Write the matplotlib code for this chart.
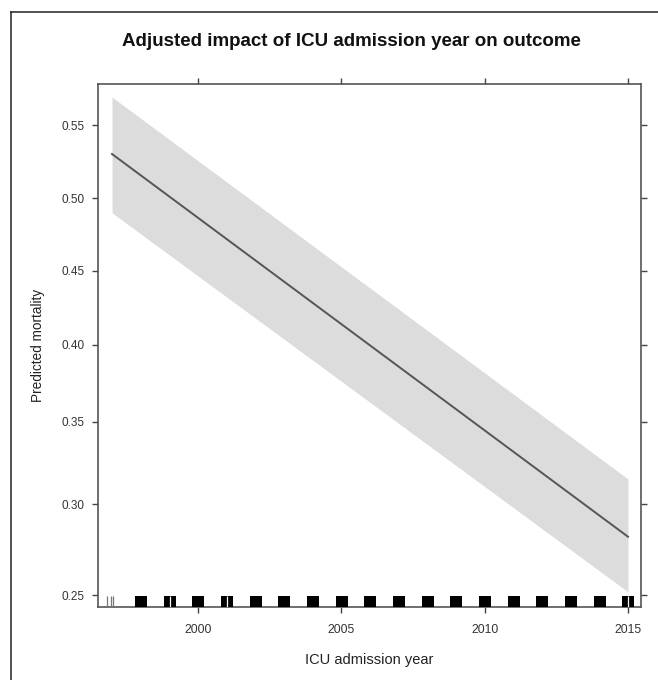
import matplotlib
matplotlib.use("Agg")
import matplotlib.pyplot as plt
from matplotlib.ticker import NullLocator, FixedLocator, FuncFormatter
from matplotlib.lines import Line2D

# ---- data ----
years_fit = [1997, 2015]
pred_mortality = [0.5304, 0.2815]
ci_upper = [0.5694, 0.3149]
ci_lower = [0.4898, 0.2517]

rug_years = list(range(1998, 2016))
rug_split_years = [1999, 2001, 2015]
rug_thin_1997 = [1996.83, 1996.95, 1997.04]

y_ticks = [0.25, 0.30, 0.35, 0.40, 0.45, 0.50, 0.55]
x_ticks = [2000, 2005, 2010, 2015]

title = "Adjusted impact of ICU admission year on outcome"
xlabel = "ICU admission year"
ylabel = "Predicted mortality"

plt.rcParams['font.family'] = ['Liberation Sans', 'DejaVu Sans']

W, H = 658, 680
fig = plt.figure(figsize=(W / 100, H / 100), dpi=100)
ax = fig.add_axes([98 / W, 1 - 607 / H, (640.7 - 98) / W, (607 - 84) / H])

ax.set_yscale('logit')
ax.set_xlim(1996.512, 2015.443)
ax.set_ylim(0.2439, 0.5782)

ax.fill_between(years_fit, ci_lower, ci_upper, color='#dcdcdc', lw=0, zorder=1)
ax.plot(years_fit, pred_mortality, color='#555555', lw=1.4, zorder=2)

# rug
xt = ax.get_xaxis_transform()
rug_h = 0.021
for yr in rug_years:
    ax.axvspan(yr - 0.2, yr + 0.22, ymin=0, ymax=rug_h, color='black', lw=0, zorder=3)
for yr in rug_split_years:
    ax.vlines(yr + 0.01, 0, rug_h, transform=xt, color='white', lw=0.9, zorder=4)
ax.vlines(rug_thin_1997, 0, rug_h, transform=xt, color='#777777', lw=0.9, zorder=3)

ax.yaxis.set_major_locator(FixedLocator(y_ticks))
ax.yaxis.set_minor_locator(NullLocator())
ax.yaxis.set_major_formatter(FuncFormatter(lambda v, p: f"{v:.2f}"))
ax.xaxis.set_major_locator(FixedLocator(x_ticks))
ax.xaxis.set_minor_locator(NullLocator())

ax.tick_params(axis='both', direction='out', length=4.5, width=1, color='#444444',
               labelcolor='#333333', top=True, right=True,
               labeltop=False, labelright=False)
ax.tick_params(axis='x', pad=8, labelsize=8.8)
ax.tick_params(axis='y', pad=5, labelsize=8.5)
for s in ax.spines.values():
    s.set_color('#555555')
    s.set_linewidth(1.2)

ax.set_xlabel(xlabel, fontsize=10.5, color='#222222', labelpad=12)
ax.set_ylabel(ylabel, fontsize=9.8, color='#222222', labelpad=12)

fig.text(351 / W, 1 - 41 / H, title, ha='center', va='center', fontsize=13.5,
         fontweight='bold', color='#111111')

# outer frame (top and left edges visible)
fig.add_artist(Line2D([11 / W, 1.0], [1 - 12 / H, 1 - 12 / H], color='#222222', lw=1.1,
                      transform=fig.transFigure))
fig.add_artist(Line2D([11 / W, 11 / W], [0.0, 1 - 12 / H], color='#222222', lw=1.1,
                      transform=fig.transFigure))

fig.savefig("out.png", dpi=100)
